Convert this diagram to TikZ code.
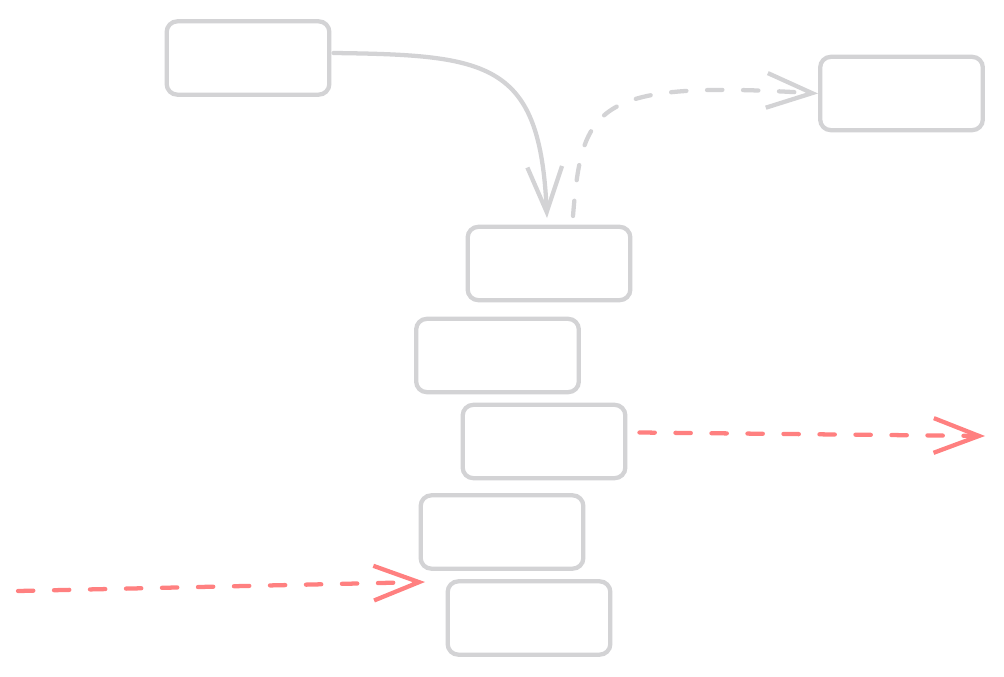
\documentclass[tikz,border=0pt]{standalone}
\usetikzlibrary{arrows.meta}
\definecolor{boxgray}{HTML}{D3D3D5}
\definecolor{softred}{HTML}{FF8080}
\tikzset{
  box/.style={draw=boxgray, line width=3.2pt, rounded corners=8pt, minimum width=122pt, minimum height=55pt, inner sep=0pt},
  barb/.style={-{Straight Barb[length=34pt,width=26pt,line width=3.2pt]}},
  grayline/.style={draw=boxgray, line width=3.2pt, line cap=round},
  redline/.style={draw=softred, line width=3.2pt, line cap=round},
  dsh/.style={dash pattern=on 11.5pt off 15.5pt},
}
\begin{document}
\begin{tikzpicture}[x=0.75pt,y=-0.75pt]
\useasboundingbox (0,0) rectangle (1004,676);
\node[box] (A) at (248,58) {};
\node[box] (B) at (901.5,93.5) {};
\node[box] (C) at (549,263.5) {};
\node[box] (D) at (497.5,355.5) {};
\node[box] (E) at (544,441.5) {};
\node[box] (F) at (502,532) {};
\node[box] (G) at (529,618) {};
\coordinate (cin) at (547,218);
\coordinate (cout) at (573,216);
\coordinate (rend) at (985,436);
\coordinate (lstart) at (18,591);
\coordinate (lend) at (425,582);
\draw[grayline, barb] (A.east) ++(2,-5) .. controls (490,55) and (540,62) .. (cin);
\draw[grayline, dsh, barb] (cout) .. controls (582,105) and (595,80) .. (B.west);
\draw[redline, dsh, barb] (E.east) ++(12,-9) -- (rend);
\draw[redline, dsh, barb] (lstart) -- (lend);
\end{tikzpicture}
\end{document}
